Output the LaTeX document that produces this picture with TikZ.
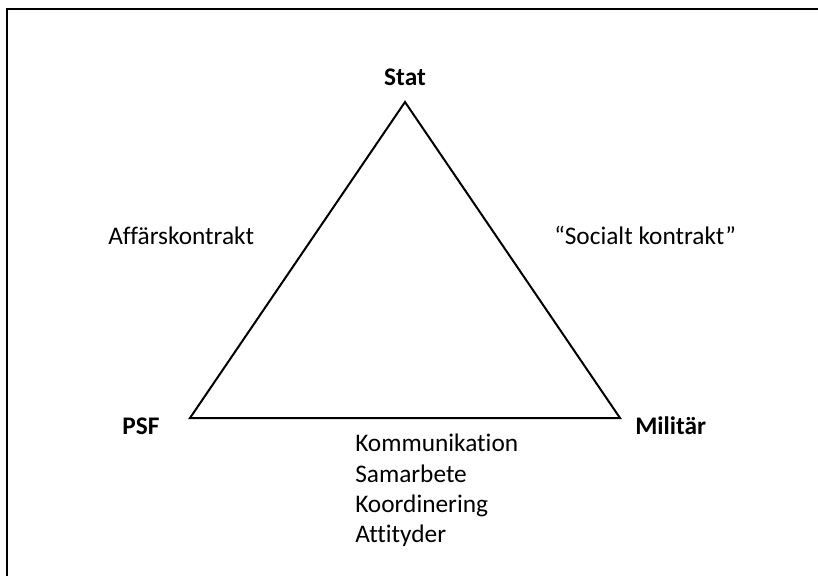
\documentclass[tikz,border=0pt]{standalone}
\usepackage{fontspec}
\setmainfont{Carlito}[Ligatures=NoCommon]
\usetikzlibrary{positioning}

\tikzset{
    hjorne/.style={font=\fontsize{19}{23}\selectfont\bfseries, inner sep=0pt},
    kontrakt/.style={font=\fontsize{19}{23}\selectfont, inner sep=0pt, anchor=base west},
    sida/.style={line width=1.5pt, line join=miter}
}

\begin{document}
\begin{tikzpicture}[x=0.75pt, y=-0.75pt]
        \useasboundingbox (0,0) rectangle (818,576);

        % Ram
        \draw[line width=1.8pt] (7,576) -- (7,9) -- (818,9);

        % Hörn i triangeln
        \coordinate (topp) at (405,102);
        \coordinate (vanster) at (190,418);
        \coordinate (hoger) at (620,418);
        \draw[sida] (topp) -- (vanster) -- (hoger) -- cycle;

        % Aktörer
        \node[hjorne, anchor=base] (stat) at (405,85) {Stat};
        \node[hjorne, anchor=base] (psf) at (141,434) {PSF};
        \node[hjorne, anchor=base west] (militar) at (635,434) {Militär};

        % Kontrakt
        \node[kontrakt] (affar) at (108,244) {Affärskontrakt};
        \node[kontrakt] (social) at (554,244) {“Socialt kontrakt”};

        % Relationer PSF--Militär
        \node[kontrakt] (komm) at (355,451) {Kommunikation};
        \node[kontrakt] (samarb) at (355,482) {Samarbete};
        \node[kontrakt] (koord) at (355,512) {Koordinering};
        \node[kontrakt] (attityd) at (355,542) {Attityder};
    \end{tikzpicture}
\end{document}
